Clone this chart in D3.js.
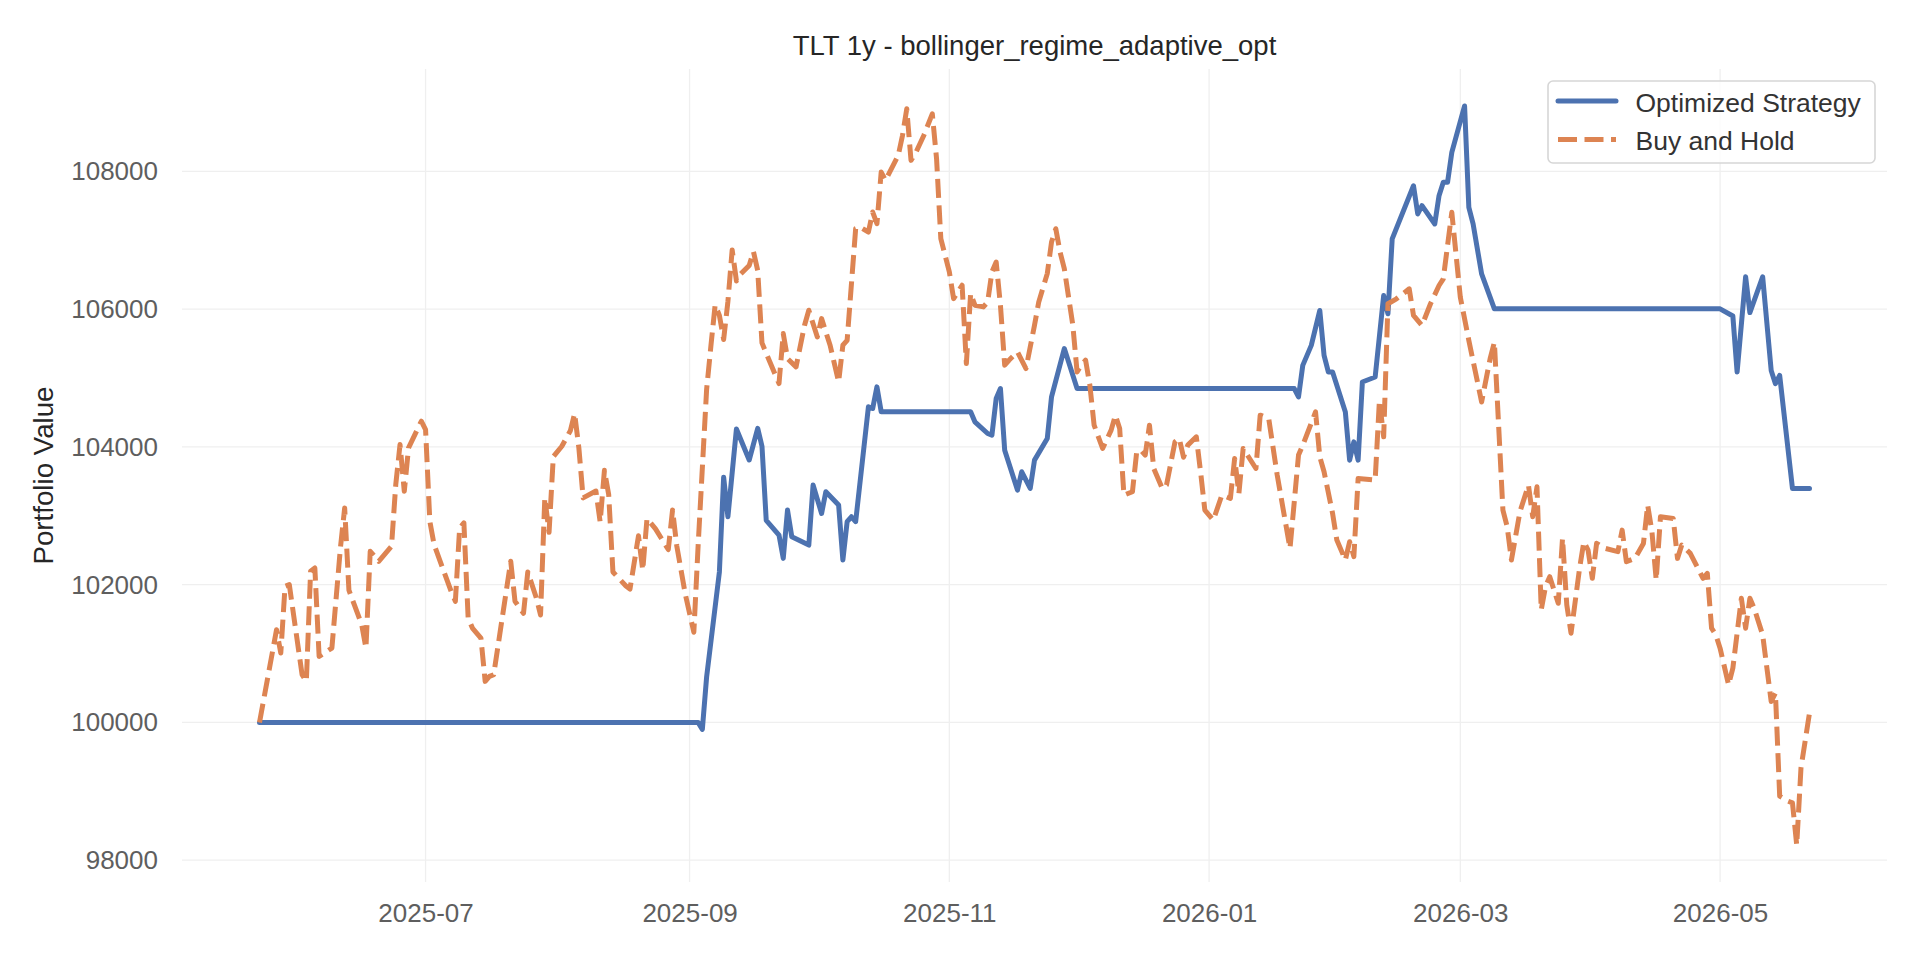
<!DOCTYPE html>
<html>
<head>
<meta charset="utf-8">
<script src="https://cdn.jsdelivr.net/npm/d3@7"></script>
<style>
  html, body { margin: 0; padding: 0; background: #fff; }
  svg { display: block; font-family: "Liberation Sans", Arial, sans-serif; }
</style>
</head>
<body>
<div id="chart"></div>
<script>
// chart texts
const chartTitle = "TLT 1y - bollinger_regime_adaptive_opt";
const yLabel = "Portfolio Value";
const seriesNames = ["Optimized Strategy", "Buy and Hold"];

// optimized strategy equity curve (date, value)
const strategy = [
    ["2025-05-23", 100000], ["2025-09-03", 100000], ["2025-09-04", 99900], ["2025-09-05", 100660],
    ["2025-09-08", 102185], ["2025-09-09", 103560], ["2025-09-10", 102985], ["2025-09-12", 104260],
    ["2025-09-15", 103810], ["2025-09-17", 104270], ["2025-09-18", 104010], ["2025-09-19", 102935],
    ["2025-09-22", 102720], ["2025-09-23", 102382], ["2025-09-24", 103083], ["2025-09-25", 102696],
    ["2025-09-29", 102575], ["2025-09-30", 103446], ["2025-10-02", 103034], ["2025-10-03", 103349],
    ["2025-10-06", 103156], ["2025-10-07", 102358], ["2025-10-08", 102914], ["2025-10-09", 102986],
    ["2025-10-10", 102914], ["2025-10-13", 104582], ["2025-10-14", 104558], ["2025-10-15", 104872],
    ["2025-10-16", 104510], ["2025-11-06", 104510], ["2025-11-07", 104364], ["2025-11-10", 104195],
    ["2025-11-11", 104171], ["2025-11-12", 104703], ["2025-11-13", 104848], ["2025-11-14", 103953],
    ["2025-11-17", 103373], ["2025-11-18", 103639], ["2025-11-20", 103397], ["2025-11-21", 103808],
    ["2025-11-24", 104122], ["2025-11-25", 104727], ["2025-11-28", 105428], ["2025-12-01", 104848],
    ["2026-01-21", 104848], ["2026-01-22", 104725], ["2026-01-23", 105184], ["2026-01-25", 105474],
    ["2026-01-27", 105981], ["2026-01-28", 105329], ["2026-01-29", 105088], ["2026-01-30", 105088],
    ["2026-02-02", 104508], ["2026-02-03", 103808], ["2026-02-04", 104073], ["2026-02-05", 103808],
    ["2026-02-06", 104943], ["2026-02-09", 105015], ["2026-02-11", 106198], ["2026-02-12", 105933],
    ["2026-02-13", 107020], ["2026-02-18", 107792], ["2026-02-19", 107382], ["2026-02-20", 107503],
    ["2026-02-23", 107237], ["2026-02-24", 107647], ["2026-02-25", 107841], ["2026-02-26", 107841],
    ["2026-02-27", 108275], ["2026-03-02", 108950], ["2026-03-03", 107478], ["2026-03-04", 107237],
    ["2026-03-06", 106512], ["2026-03-09", 106005], ["2026-05-01", 106005], ["2026-05-04", 105900],
    ["2026-05-05", 105087], ["2026-05-07", 106470], ["2026-05-08", 105950], ["2026-05-11", 106470],
    ["2026-05-13", 105111], ["2026-05-14", 104918], ["2026-05-15", 105038], ["2026-05-18", 103396],
    ["2026-05-22", 103396]
];

// buy and hold equity curve (date, value)
const buyHold = [
    ["2025-05-23", 100000], ["2025-05-27", 101346], ["2025-05-28", 101007], ["2025-05-29", 101976],
    ["2025-05-30", 102000], ["2025-06-02", 100693], ["2025-06-03", 100596], ["2025-06-04", 102194],
    ["2025-06-05", 102242], ["2025-06-06", 100959], ["2025-06-09", 101080], ["2025-06-11", 102533],
    ["2025-06-12", 103114], ["2025-06-13", 101920], ["2025-06-16", 101420], ["2025-06-17", 101080],
    ["2025-06-18", 102485], ["2025-06-19", 102412], ["2025-06-20", 102340], ["2025-06-23", 102557],
    ["2025-06-24", 103453], ["2025-06-25", 104034], ["2025-06-26", 103356], ["2025-06-27", 103986],
    ["2025-06-30", 104373], ["2025-07-01", 104252], ["2025-07-02", 102920], ["2025-07-03", 102581],
    ["2025-07-07", 101903], ["2025-07-08", 101758], ["2025-07-09", 102823], ["2025-07-10", 102896],
    ["2025-07-11", 101516], ["2025-07-12", 101370], ["2025-07-14", 101225], ["2025-07-15", 100596],
    ["2025-07-16", 100668], ["2025-07-17", 100693], ["2025-07-21", 102340], ["2025-07-22", 101760],
    ["2025-07-24", 101585], ["2025-07-25", 102185], ["2025-07-27", 101810], ["2025-07-28", 101560],
    ["2025-07-29", 103260], ["2025-07-30", 102760], ["2025-07-31", 103860], ["2025-08-02", 104010],
    ["2025-08-04", 104235], ["2025-08-05", 104485], ["2025-08-06", 103985], ["2025-08-07", 103260],
    ["2025-08-10", 103360], ["2025-08-11", 102910], ["2025-08-12", 103660], ["2025-08-13", 103310],
    ["2025-08-14", 102185], ["2025-08-17", 101985], ["2025-08-18", 101935], ["2025-08-20", 102710],
    ["2025-08-21", 102210], ["2025-08-22", 102960], ["2025-08-24", 102810], ["2025-08-26", 102610],
    ["2025-08-27", 102510], ["2025-08-28", 103085], ["2025-08-29", 102560], ["2025-08-31", 101860],
    ["2025-09-02", 101310], ["2025-09-03", 102560], ["2025-09-05", 104835], ["2025-09-06", 105460],
    ["2025-09-07", 106060], ["2025-09-08", 105910], ["2025-09-09", 105560], ["2025-09-10", 106110],
    ["2025-09-11", 106860], ["2025-09-12", 106410], ["2025-09-13", 106510], ["2025-09-15", 106635],
    ["2025-09-16", 106835], ["2025-09-17", 106560], ["2025-09-18", 105510], ["2025-09-19", 105360],
    ["2025-09-22", 104920], ["2025-09-23", 105645], ["2025-09-24", 105283], ["2025-09-26", 105162],
    ["2025-09-28", 105766], ["2025-09-29", 105984], ["2025-10-01", 105597], ["2025-10-02", 105863],
    ["2025-10-04", 105476], ["2025-10-06", 104944], ["2025-10-07", 105476], ["2025-10-08", 105548],
    ["2025-10-10", 107168], ["2025-10-11", 107192], ["2025-10-13", 107120], ["2025-10-14", 107410],
    ["2025-10-15", 107241], ["2025-10-16", 107990], ["2025-10-17", 107870], ["2025-10-20", 108232],
    ["2025-10-21", 108522], ["2025-10-22", 108909], ["2025-10-23", 108160], ["2025-10-24", 108256],
    ["2025-10-26", 108522], ["2025-10-28", 108836], ["2025-10-29", 108184], ["2025-10-30", 107023],
    ["2025-11-01", 106540], ["2025-11-02", 106153], ["2025-11-04", 106347], ["2025-11-05", 105210],
    ["2025-11-06", 106226], ["2025-11-07", 106057], ["2025-11-09", 106033], ["2025-11-10", 106104],
    ["2025-11-11", 106540], ["2025-11-12", 106683], ["2025-11-13", 106057], ["2025-11-14", 105186],
    ["2025-11-15", 105258], ["2025-11-17", 105379], ["2025-11-19", 105137], ["2025-11-21", 105766],
    ["2025-11-22", 106105], ["2025-11-24", 106516], ["2025-11-25", 106975], ["2025-11-26", 107168],
    ["2025-11-27", 106830], ["2025-11-28", 106588], ["2025-11-30", 105766], ["2025-12-01", 105089],
    ["2025-12-02", 105186], ["2025-12-03", 105259], ["2025-12-04", 104896], ["2025-12-05", 104316],
    ["2025-12-07", 103977], ["2025-12-09", 104243], ["2025-12-10", 104461], ["2025-12-11", 104268],
    ["2025-12-12", 103300], ["2025-12-14", 103349], ["2025-12-15", 103929], ["2025-12-16", 103953],
    ["2025-12-17", 103881], ["2025-12-18", 104316], ["2025-12-19", 103687], ["2025-12-21", 103397],
    ["2025-12-22", 103446], ["2025-12-24", 104074], ["2025-12-25", 104122], ["2025-12-26", 103850],
    ["2025-12-27", 104026], ["2025-12-29", 104147], ["2025-12-30", 103639], ["2025-12-31", 103083],
    ["2026-01-02", 102938], ["2026-01-04", 103300], ["2026-01-06", 103252], ["2026-01-07", 103832],
    ["2026-01-08", 103324], ["2026-01-09", 103977], ["2026-01-10", 103881], ["2026-01-12", 103687],
    ["2026-01-13", 104461], ["2026-01-15", 104413], ["2026-01-17", 103590], ["2026-01-20", 102527],
    ["2026-01-21", 103200], ["2026-01-22", 103881], ["2026-01-23", 104025], ["2026-01-26", 104508],
    ["2026-01-27", 103856], ["2026-01-28", 103639], ["2026-01-30", 103035], ["2026-01-31", 102648],
    ["2026-02-02", 102358], ["2026-02-03", 102624], ["2026-02-04", 102407], ["2026-02-05", 103542],
    ["2026-02-09", 103518], ["2026-02-10", 104677], ["2026-02-11", 104146], ["2026-02-12", 106078],
    ["2026-02-14", 106150], ["2026-02-17", 106295], ["2026-02-18", 105909], ["2026-02-20", 105764],
    ["2026-02-22", 106078], ["2026-02-24", 106343], ["2026-02-25", 106440], ["2026-02-27", 107406],
    ["2026-03-01", 106174], ["2026-03-03", 105546], ["2026-03-06", 104653], ["2026-03-08", 105281],
    ["2026-03-09", 105522], ["2026-03-11", 103083], ["2026-03-12", 102842], ["2026-03-13", 102358],
    ["2026-03-15", 103059], ["2026-03-17", 103445], ["2026-03-18", 102986], ["2026-03-19", 103421],
    ["2026-03-20", 101634], ["2026-03-21", 101972], ["2026-03-22", 102116], ["2026-03-24", 101730],
    ["2026-03-25", 102672], ["2026-03-26", 101706], ["2026-03-27", 101295], ["2026-03-29", 102237],
    ["2026-03-30", 102623], ["2026-03-31", 102502], ["2026-04-01", 102092], ["2026-04-02", 102600],
    ["2026-04-04", 102527], ["2026-04-07", 102479], ["2026-04-08", 102792], ["2026-04-09", 102334],
    ["2026-04-11", 102382], ["2026-04-13", 102599], ["2026-04-14", 103155], ["2026-04-15", 102768],
    ["2026-04-16", 102068], ["2026-04-17", 102986], ["2026-04-20", 102961], ["2026-04-21", 102382],
    ["2026-04-22", 102575], ["2026-04-24", 102454], ["2026-04-27", 102092], ["2026-04-28", 102165],
    ["2026-04-29", 101368], ["2026-04-30", 101271], ["2026-05-01", 101078], ["2026-05-03", 100547],
    ["2026-05-04", 100788], ["2026-05-06", 101803], ["2026-05-07", 101368], ["2026-05-08", 101803],
    ["2026-05-09", 101658], ["2026-05-11", 101271], ["2026-05-13", 100305], ["2026-05-14", 100426],
    ["2026-05-15", 98929], ["2026-05-17", 98856], ["2026-05-18", 98832], ["2026-05-19", 98220],
    ["2026-05-20", 99339], ["2026-05-22", 100136]
];

// y tick values
const yTickValues = [98000, 100000, 102000, 104000, 106000, 108000];

// colors (seaborn deep palette)
const colors = ["#4c72b0", "#dd8452"];

const width = 1920, height = 960;
const margin = { top: 69, right: 33, bottom: 78, left: 182 };
const lineWidth = 5;

const parse = d3.utcParse("%Y-%m-%d");
const series = [strategy, buyHold].map(s => s.map(d => ({ date: parse(d[0]), value: d[1] })));
const all = series.flat();

// matplotlib style 5% padding on both axes
const [t0, t1] = d3.extent(all, d => d.date);
const tPad = (t1 - t0) * 0.05;
const [v0, v1] = d3.extent(all, d => d.value);
const vPad = (v1 - v0) * 0.05;

const x = d3.scaleUtc()
    .domain([new Date(+t0 - tPad), new Date(+t1 + tPad)])
    .range([margin.left, width - margin.right]);
const y = d3.scaleLinear()
    .domain([v0 - vPad, v1 + vPad])
    .range([height - margin.bottom, margin.top]);

const svg = d3.select("#chart").append("svg")
    .attr("width", width)
    .attr("height", height);

const xTicks = x.ticks(d3.utcMonth.every(2));

// grid
const grid = svg.append("g").attr("stroke", "#efefef").attr("stroke-width", 1.3);
grid.selectAll(".vx").data(xTicks).enter().append("line")
    .attr("x1", d => x(d)).attr("x2", d => x(d))
    .attr("y1", margin.top).attr("y2", height - margin.bottom);
grid.selectAll(".hy").data(yTickValues).enter().append("line")
    .attr("x1", margin.left).attr("x2", width - margin.right)
    .attr("y1", d => y(d)).attr("y2", d => y(d));

// axes (no spines, tick labels only)
const xAxis = svg.append("g")
    .attr("transform", `translate(0,${height - margin.bottom})`)
    .call(d3.axisBottom(x).tickValues(xTicks).tickFormat(d3.utcFormat("%Y-%m")).tickSize(0).tickPadding(22));
const yAxis = svg.append("g")
    .attr("transform", `translate(${margin.left},0)`)
    .call(d3.axisLeft(y).tickValues(yTickValues).tickFormat(d3.format("d")).tickSize(0).tickPadding(24));
[xAxis, yAxis].forEach(a => {
    a.select(".domain").remove();
    a.selectAll("text")
        .attr("fill", "#5e5e5e")
        .style("font-size", "26px")
        .style("font-family", '"Liberation Sans", Arial, sans-serif');
});
xAxis.selectAll("text").attr("dy", "0.71em");

// lines
const line = d3.line().x(d => x(d.date)).y(d => y(d.value));
svg.append("path")
    .datum(series[0])
    .attr("fill", "none")
    .attr("stroke", colors[0])
    .attr("stroke-width", lineWidth)
    .attr("stroke-linejoin", "round")
    .attr("stroke-linecap", "round")
    .attr("d", line);
svg.append("path")
    .datum(series[1])
    .attr("fill", "none")
    .attr("stroke", colors[1])
    .attr("stroke-width", lineWidth)
    .attr("stroke-linejoin", "round")
    .attr("stroke-dasharray", "19,7.5")
    .attr("d", line);

// title
svg.append("text")
    .attr("x", (margin.left + width - margin.right) / 2)
    .attr("y", 55)
    .attr("text-anchor", "middle")
    .attr("fill", "#262626")
    .style("font-size", "27.5px")
    .text(chartTitle);

// y label
svg.append("text")
    .attr("transform", `translate(53,${(margin.top + height - margin.bottom) / 2}) rotate(-90)`)
    .attr("text-anchor", "middle")
    .attr("fill", "#262626")
    .style("font-size", "27.7px")
    .text(yLabel);

// legend
const lg = svg.append("g").attr("transform", `translate(${width - margin.right - 12},${margin.top + 12})`);
lg.append("rect")
    .attr("x", -327).attr("y", 0)
    .attr("width", 327).attr("height", 82)
    .attr("rx", 5)
    .attr("fill", "#fff").attr("fill-opacity", 0.8)
    .attr("stroke", "#d6d6d6").attr("stroke-width", 1.6);
seriesNames.forEach((name, i) => {
    const yy = 20 + i * 38.5;
    lg.append("line")
        .attr("x1", -317).attr("x2", -259)
        .attr("y1", yy).attr("y2", yy)
        .attr("stroke", colors[i])
        .attr("stroke-width", lineWidth)
        .attr("stroke-linecap", i === 0 ? "round" : "butt")
        .attr("stroke-dasharray", i === 0 ? null : "19,7.5");
    lg.append("text")
        .attr("x", -239.5).attr("y", yy + 10.5)
        .attr("fill", "#333")
        .style("font-size", "26.5px")
        .text(name);
});
</script>
</body>
</html>
